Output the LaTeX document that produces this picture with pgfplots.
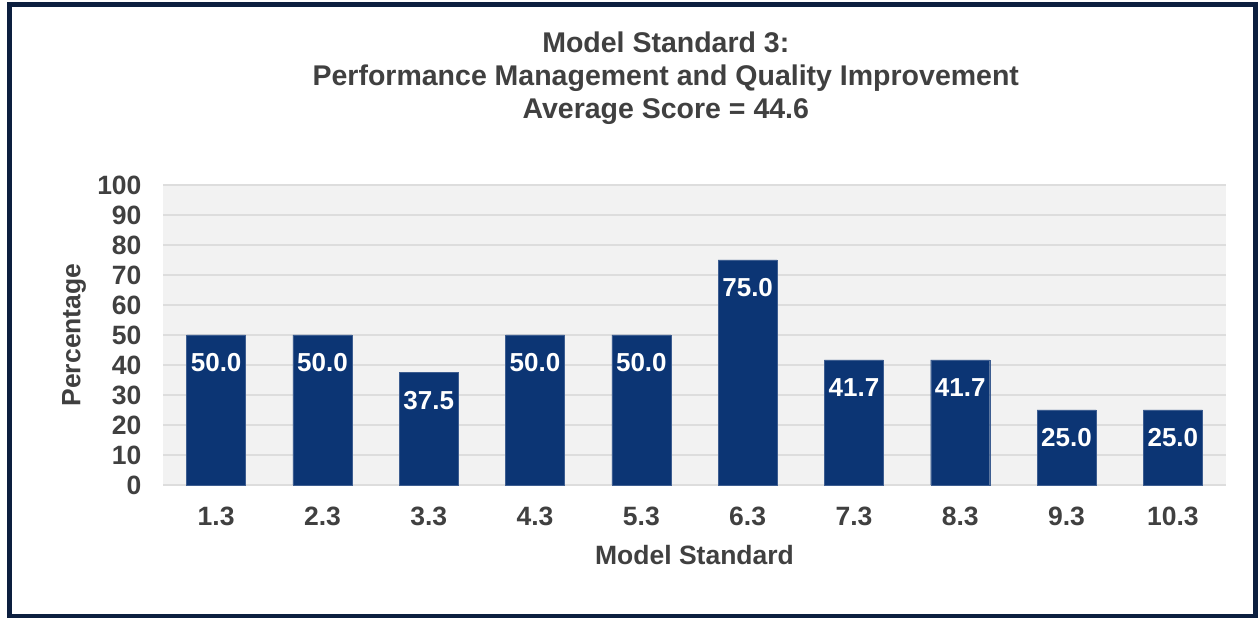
\documentclass[border=0pt]{standalone}
\usepackage{fontspec}
\setmainfont{Liberation Sans}
\usepackage{pgfplots}
\pgfplotsset{compat=1.18}
\definecolor{barblue}{HTML}{0C3574}
\definecolor{framec}{HTML}{0C1F3F}
\definecolor{txt}{HTML}{404040}
\definecolor{plotbg}{HTML}{F2F2F2}
\definecolor{gridc}{HTML}{DDDDDD}
\begin{document}
\begin{tikzpicture}[x=1pt,y=1pt]
\useasboundingbox (0,0) rectangle (1259,618);
\fill[white] (0,0) rectangle (1259,618);
\draw[framec, line width=5pt] (9.5,1) rectangle (1255.5,613.5);
\begin{axis}[
  at={(163pt,133pt)}, anchor=south west,
  scale only axis, width=1063pt, height=300pt,
  xmin=0.5, xmax=10.5, ymin=0, ymax=100,
  xtick={1,2,3,4,5,6,7,8,9,10},
  xticklabels={1.3,2.3,3.3,4.3,5.3,6.3,7.3,8.3,9.3,10.3},
  ytick={0,10,20,30,40,50,60,70,80,90,100},
  /pgf/number format/assume math mode=true,
  axis background/.style={fill=plotbg},
  axis line style={draw=none},
  major tick length=0pt,
  ymajorgrids, grid style={gridc, line width=1.5pt},
  ticklabel style={font=\fontsize{26.5}{30}\selectfont\bfseries, text=txt},
  xticklabel style={yshift=-18pt},
  yticklabel style={xshift=-18pt},
  ylabel={Percentage},
  ylabel style={at={(axis description cs:-0.0837,0.5)}, anchor=center, font=\fontsize{26.5}{30}\selectfont\bfseries, text=txt},
  xlabel={Model Standard},
  xlabel style={at={(axis description cs:0.5,-0.2333)}, anchor=center, font=\fontsize{26.5}{30}\selectfont\bfseries, text=txt},
  title={Model Standard 3:\\Performance Management and Quality Improvement\\Average Score = 44.6},
  title style={at={(axis description cs:0.473,1.3367)}, anchor=center, align=center, font=\fontsize{28.5}{33}\selectfont\bfseries, text=txt},
  ybar, bar width=59pt,
  nodes near coords={\pgfmathprintnumber[fixed,fixed zerofill,precision=1,assume math mode=true]{\pgfplotspointmeta}},
  every node near coord/.append style={anchor=center, yshift=-28pt, text=white, font=\fontsize{26}{30}\selectfont\bfseries},
  clip=false,
]
\addplot[fill=barblue, draw=barblue!80!white] coordinates {
(1,50.0) (2,50.0) (3,37.5) (4,50.0) (5,50.0) (6,75.0) (7,41.7) (8,41.7) (9,25.0) (10,25.0)
};
\end{axis}
\end{tikzpicture}
\end{document}
